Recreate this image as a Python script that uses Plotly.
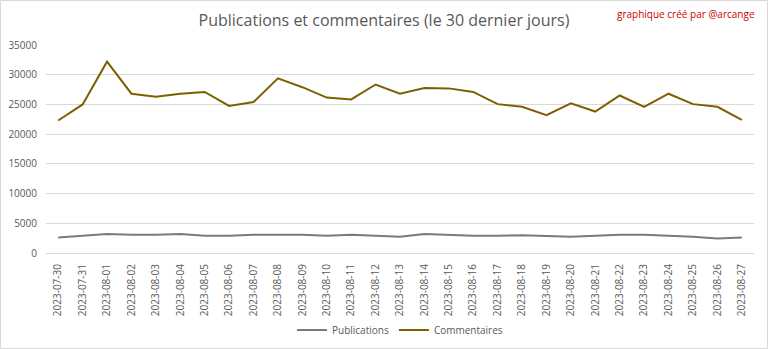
import plotly.graph_objects as go

dates = ["2023-07-30", "2023-07-31", "2023-08-01", "2023-08-02", "2023-08-03", "2023-08-04",
         "2023-08-05", "2023-08-06", "2023-08-07", "2023-08-08", "2023-08-09", "2023-08-10",
         "2023-08-11", "2023-08-12", "2023-08-13", "2023-08-14", "2023-08-15", "2023-08-16",
         "2023-08-17", "2023-08-18", "2023-08-19", "2023-08-20", "2023-08-21", "2023-08-22",
         "2023-08-23", "2023-08-24", "2023-08-25", "2023-08-26", "2023-08-27"]

publications = [2600, 2900, 3200, 3050, 3050, 3200, 2900, 2900, 3050, 3050, 3050, 2900,
                3050, 2900, 2750, 3200, 3050, 2900, 2900, 3000, 2850, 2750, 2900, 3050,
                3050, 2900, 2750, 2450, 2600]

commentaires = [22300, 25000, 32200, 26800, 26300, 26800, 27100, 24750, 25400, 29400, 27900, 26150,
                25850, 28350, 26800, 27750, 27700, 27100, 25050, 24600, 23200, 25200, 23800, 26500,
                24600, 26800, 25050, 24600, 22400]

fig = go.Figure()
fig.add_trace(go.Scatter(x=dates, y=publications, mode="lines", name="Publications",
                         line=dict(color="#7a7a7a", width=2)))
fig.add_trace(go.Scatter(x=dates, y=commentaires, mode="lines", name="Commentaires",
                         line=dict(color="#7f6000", width=2)))

L, R, T, B = 46, 14, 45, 96
W, H = 768, 349
pw, ph = W - L - R, H - T - B

fig.update_layout(
    width=W, height=H,
    margin=dict(l=L, r=R, t=T, b=B),
    paper_bgcolor="white", plot_bgcolor="white",
    font=dict(family="Open Sans, sans-serif", color="#595959", size=10),
    title=dict(text="Publications et commentaires (le 30 dernier jours)",
               x=0.5, xanchor="center", y=1 - 20 / H, yanchor="middle",
               font=dict(size=16, color="#595959")),
    showlegend=True,
    legend=dict(orientation="h", x=0.5, xanchor="center", y=1 - 330 / H,
                yanchor="middle", yref="container", font=dict(size=10, color="#595959"),
                bgcolor="rgba(0,0,0,0)"),
    xaxis=dict(type="category", range=[-0.5, len(dates) - 0.5], autorange=False,
               automargin=False, tickangle=-90, showgrid=False, showline=True,
               linecolor="#d9d9d9", linewidth=1, ticks="", ticklabelstandoff=6,
               tickfont=dict(size=10, color="#595959")),
    yaxis=dict(range=[0, 35000], dtick=5000, showgrid=True, gridcolor="#d9d9d9",
               automargin=False, gridwidth=1, zeroline=False, showline=False, ticks="",
               tickfont=dict(size=10, color="#595959"), tickformat="d", ticklabelstandoff=8),
    annotations=[dict(text="graphique créé par @arcange", xref="paper", yref="paper",
                      x=(757 - L) / pw, y=(H - B - 14) / ph, xanchor="right", yanchor="middle",
                      showarrow=False, font=dict(size=10, color="#cc0000"))],
    shapes=[dict(type="rect", xref="paper", yref="paper",
                 x0=(0.5 - L) / pw, x1=(W - 0.5 - L) / pw,
                 y0=(-(B) + 0.5) / ph, y1=(T + ph - 0.5 + 0) / ph,
                 line=dict(color="#d9d9d9", width=1), layer="below")],
)
fig.write_html("out.html")
